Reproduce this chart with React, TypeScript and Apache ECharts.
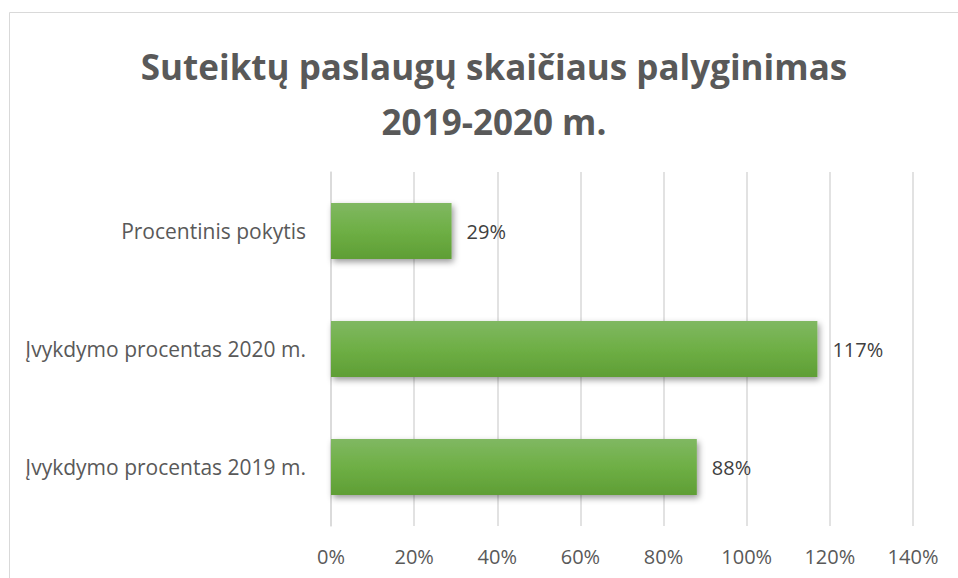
import React, { useEffect, useRef } from "react";
import * as echarts from "echarts";

const titleText = "Suteiktų paslaugų skaičiaus palyginimas\n2019-2020 m.";
const categories = [
  "Įvykdymo procentas 2019 m.",
  "Įvykdymo procentas 2020 m.",
  "Procentinis pokytis",
];
const values = [0.88, 1.17, 0.29];
const axisMin = 0;
const axisMax = 1.4;
const axisStep = 0.2;

export default function App() {
  const ref = useRef<HTMLDivElement>(null);
  useEffect(() => {
    document.body.style.margin = "0";
    const chart = echarts.init(ref.current!, undefined, { renderer: "svg" });
    const font = "'Open Sans', 'Noto Sans', sans-serif";
    chart.setOption({
      animation: false,
      backgroundColor: "#ffffff",
      textStyle: { fontFamily: font },
      title: {
        text: titleText,
        left: 489,
        top: 34,
        textAlign: "center",
        textStyle: {
          fontFamily: font,
          fontSize: 35,
          fontWeight: "bold",
          color: "#595959",
          lineHeight: 55,
        },
      },
      graphic: [
        {
          type: "rect",
          shape: { x: 9.5, y: 12.5, width: 980, height: 600 },
          style: { fill: "none", stroke: "#d9d9d9", lineWidth: 1 },
          silent: true,
        },
      ],
      grid: { left: 331, right: 45, top: 172, bottom: 52, containLabel: false },
      xAxis: {
        type: "value",
        min: axisMin,
        max: axisMax,
        interval: axisStep,
        axisLine: { show: false },
        axisTick: { show: false },
        splitLine: { show: true, lineStyle: { color: "#d9d9d9", width: 1.5 } },
        axisLabel: {
          color: "#595959",
          fontSize: 20,
          fontFamily: font,
          margin: 20,
          formatter: (v: number) => Math.round(v * 100) + "%",
        },
      },
      yAxis: {
        type: "category",
        data: categories,
        axisLine: { show: true, lineStyle: { color: "#d9d9d9", width: 1.5 } },
        axisTick: { show: false },
        axisLabel: { color: "#595959", fontSize: 21, fontFamily: font, margin: 25 },
      },
      series: [
        {
          type: "bar",
          data: values,
          barWidth: 56,
          itemStyle: {
            color: new echarts.graphic.LinearGradient(0, 0, 0, 1, [
              { offset: 0, color: "#80b862" },
              { offset: 0.5, color: "#6eaf45" },
              { offset: 1, color: "#5f9e35" },
            ]),
            shadowColor: "rgba(0,0,0,0.4)",
            shadowBlur: 6,
            shadowOffsetX: 2,
            shadowOffsetY: 3,
          },
          label: {
            show: true,
            position: "right",
            distance: 15,
            color: "#404040",
            fontSize: 20,
            fontFamily: font,
            formatter: (p: any) => Math.round(p.value * 100) + "%",
          },
        },
      ],
    });
    return () => chart.dispose();
  }, []);
  return <div ref={ref} style={{ width: 958, height: 578 }} />;
}
